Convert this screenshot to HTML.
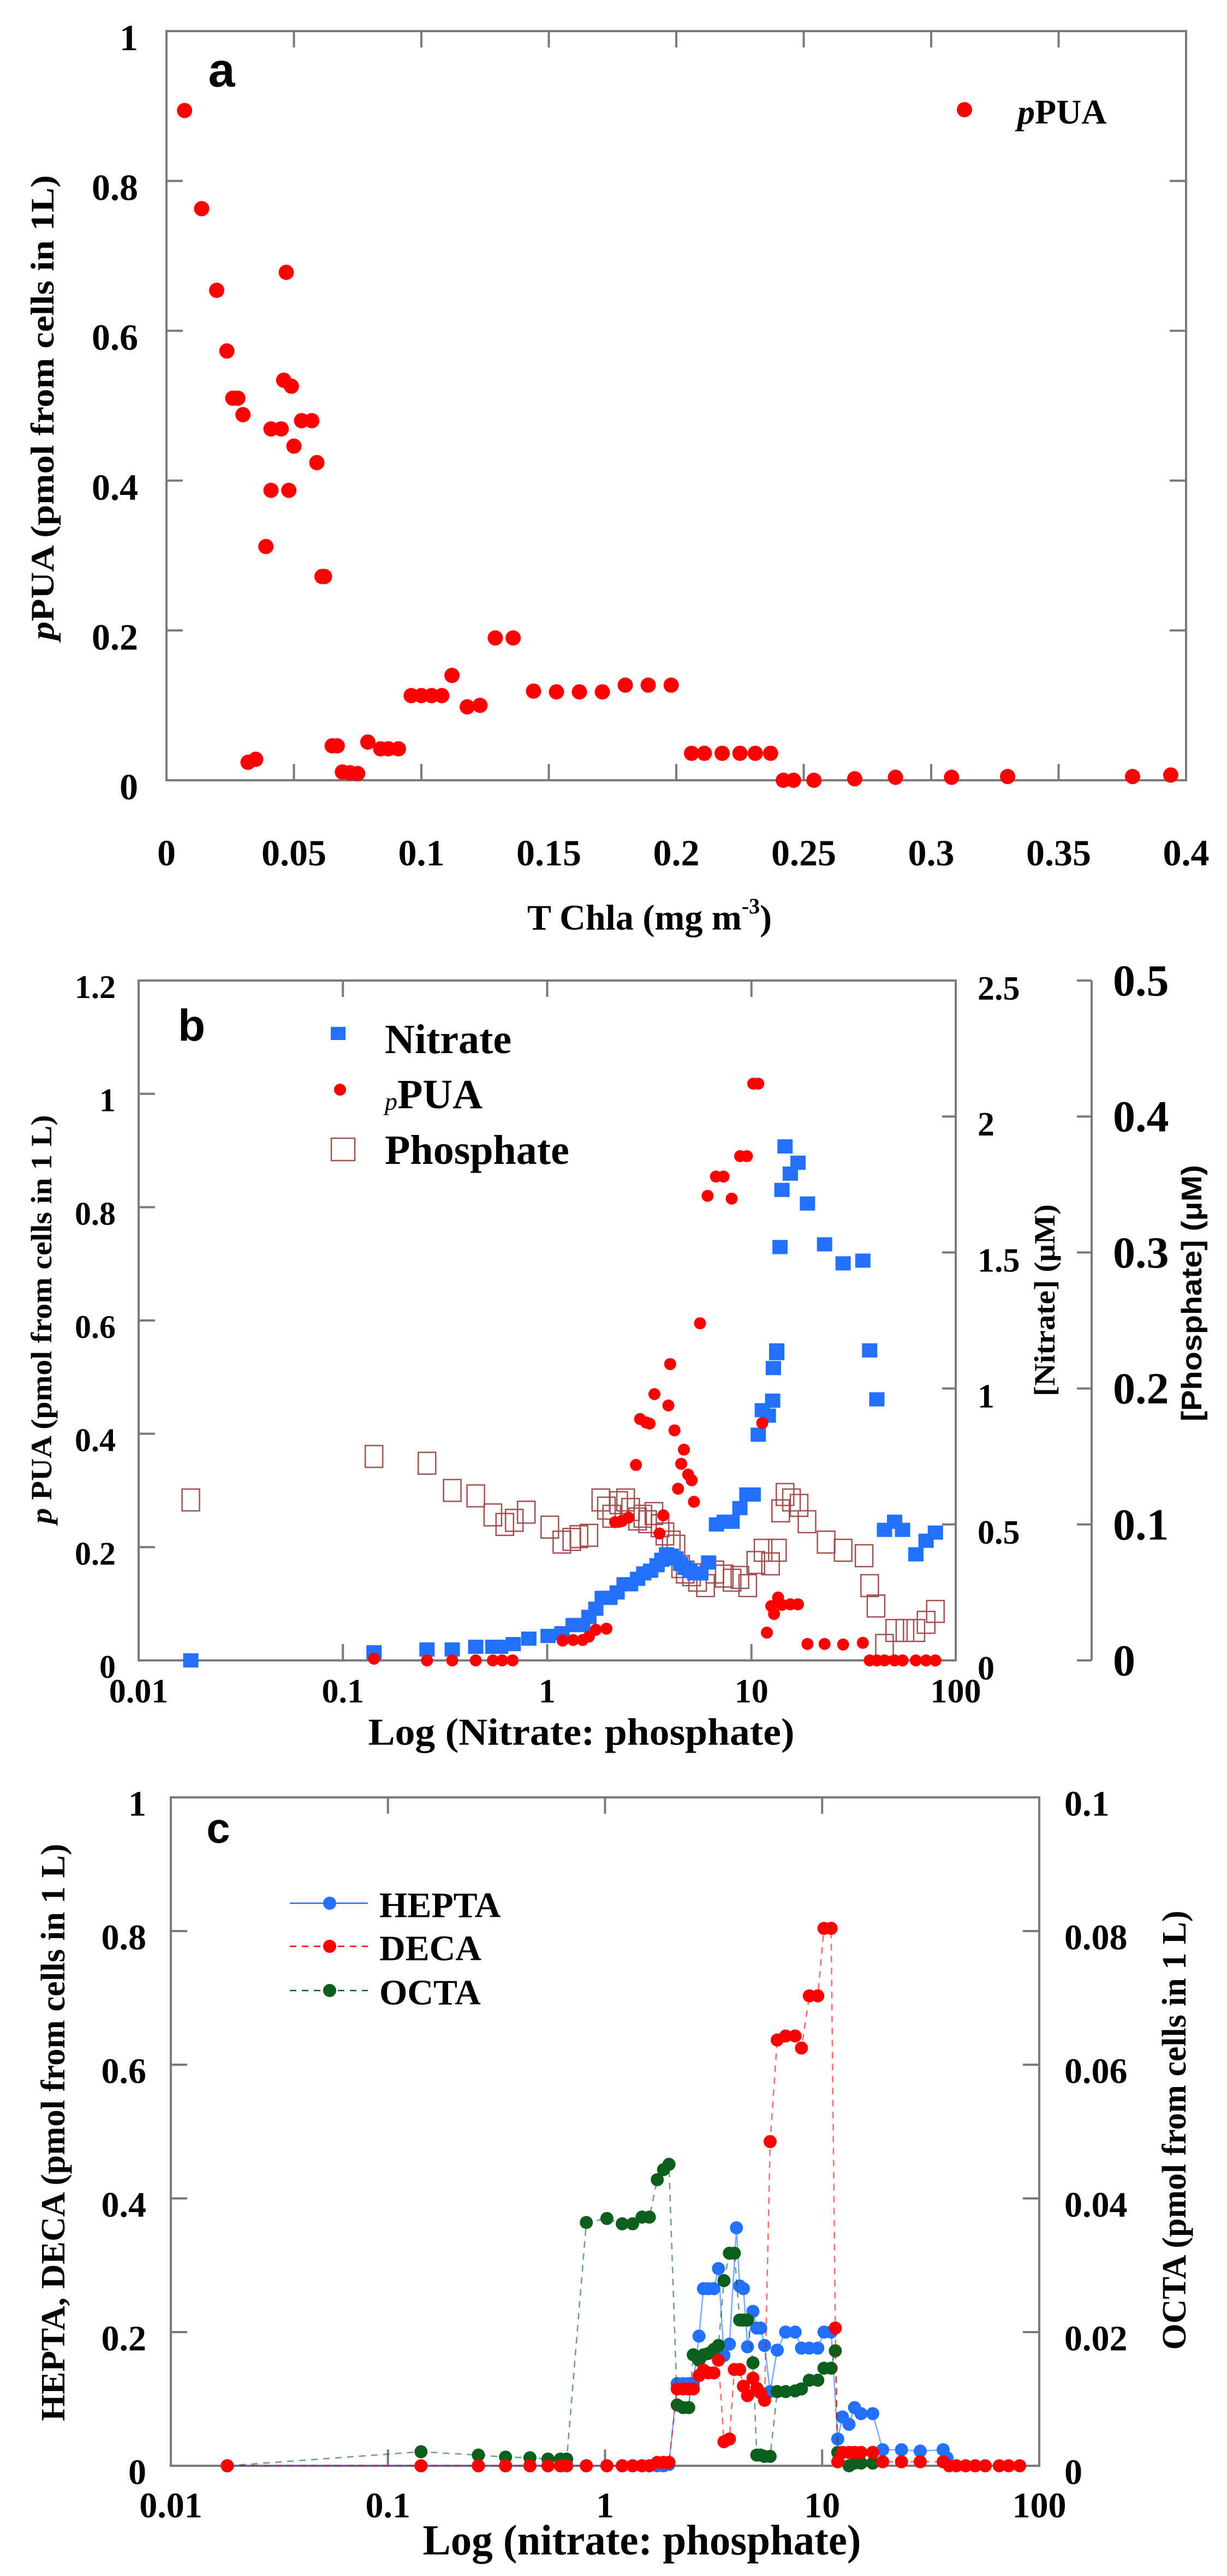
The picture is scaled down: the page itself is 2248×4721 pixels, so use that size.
<!DOCTYPE html>
<html><head><meta charset="utf-8"><title>pPUA charts</title>
<style>
html,body{margin:0;padding:0;background:#fff;}
svg{display:block;}
text{font-family:"Liberation Serif",serif;font-weight:bold;fill:#000;}
.sans{font-family:"Liberation Sans",sans-serif;}
</style></head>
<body>
<svg id="fig" xmlns="http://www.w3.org/2000/svg" width="2248" height="4721" viewBox="0 0 2248 4721"></svg>
<script>
// ---------- Panel a data ----------
const aChla = [.0071,.0138,.0197,.0237,.026,.028,.030,.032,.035,.039,.041,.048,.041,.045,.046,.047,.049,.050,.053,.057,.059,.061,.062,.065,.067,.069,.072,.075,.079,.084,.087,.091,.096,.100,.104,.108,.112,.118,.123,.129,.136,.144,.153,.162,.171,.180,.189,.198,.206,.211,.218,.225,.231,.237,.242,.246,.254,.270,.286,.308,.330,.379,.394];
const aPUA  = [.894,.763,.654,.573,.510,.510,.488,.024,.028,.312,.387,.387,.469,.469,.534,.678,.526,.446,.480,.480,.424,.272,.272,.046,.046,.011,.010,.009,.051,.042,.042,.042,.113,.113,.113,.113,.140,.098,.100,.190,.190,.119,.118,.118,.118,.127,.127,.127,.036,.036,.036,.036,.036,.036,0,0,0,.002,.004,.004,.005,.005,.007];
const aXTicks = [0,0.05,0.1,0.15,0.2,0.25,0.3,0.35,0.4];
const aXLabels = ["0","0.05","0.1","0.15","0.2","0.25","0.3","0.35","0.4"];
const aYTicks = [0,0.2,0.4,0.6,0.8,1];
const aYLabels = ["0","0.2","0.4","0.6","0.8","1"];

// ---------- Panel b data ----------
const bNitX = [.018,.142,.258,.343,.447,.542,.592,.682,.813,1.01,1.18,1.34,1.49,1.60,1.73,1.86,2.03,2.20,2.38,2.56,2.77,2.97,3.21,3.45,3.64,3.84,4.05,4.27,4.50,4.74,5.0,5.27,5.65,6.17,6.74,7.36,8.04,8.78,9.5,10.2,10.8,11.3,12.1,12.7,12.8,13.3,13.3,13.8,14.1,14.6,15.5,16.9,18.8,22.8,28.1,35.1,37.9,41.1,44.8,50.2,54.9,63.8,71.6,79.5];
const bNitY = [0,.03,.04,.04,.05,.05,.05,.06,.08,.09,.10,.13,.13,.16,.19,.23,.23,.25,.28,.28,.30,.32,.33,.35,.37,.39,.385,.375,.355,.34,.33,.32,.32,.36,.50,.51,.51,.56,.61,.61,.83,.92,.90,.955,1.075,1.13,1.14,1.52,1.73,1.89,1.79,1.83,1.68,1.53,1.46,1.47,1.14,.96,.48,.51,.48,.39,.44,.47];
const bPuaX = [.142,.258,.343,.447,.542,.602,.677,1.19,1.34,1.49,1.60,1.73,1.95,2.15,2.32,2.5,2.72,2.85,3.05,3.17,3.35,3.55,3.70,3.92,4.0,4.2,4.37,4.53,4.67,4.9,5.1,5.23,5.6,6.1,6.7,7.3,8.0,8.8,9.5,10.2,10.8,11.3,11.9,12.5,12.9,13.5,14.1,15.5,16.9,18.8,22.8,28.1,35.1,37.9,41.1,44.8,50.2,54.9,63.8,71.6,79.5];
const bPuaY = [.003,0,0,0,0,0,0,.035,.036,.036,.042,.054,.056,.244,.246,.252,.345,.426,.42,.418,.47,.224,.256,.45,.523,.406,.303,.347,.372,.328,.318,.28,.595,.82,.854,.854,.815,.89,.89,1.018,1.018,.419,.049,.096,.082,.111,.098,.099,.099,.029,.029,.028,.031,0,0,0,0,0,0,0,0];
const bPhoX = [.018,.142,.258,.343,.447,.542,.62,.69,.79,1.03,1.18,1.32,1.43,1.6,1.83,1.95,2.07,2.24,2.42,2.56,2.77,2.94,3.10,3.33,3.57,3.77,4.05,4.27,4.50,4.74,5.09,5.45,5.96,6.62,7.36,8.04,8.78,9.59,10.5,11.4,12.4,13.4,13.9,14.6,15.7,17.1,18.7,23.2,28.1,35.6,37.9,40.7,44.8,50.3,56.4,63.8,71.6,79.5];
const bPhoY = [.118,.150,.145,.125,.121,.107,.10,.103,.109,.098,.087,.089,.091,.092,.118,.112,.106,.116,.118,.111,.104,.106,.102,.108,.099,.093,.087,.084,.069,.065,.063,.059,.055,.065,.062,.059,.061,.055,.072,.081,.071,.081,.110,.122,.118,.114,.102,.087,.081,.077,.055,.040,.011,.022,.022,.022,.028,.036];
const bXTicks = [0.01,0.1,1,10,100];
const bXLabels = ["0.01","0.1","1","10","100"];
const bYTicks = [0,0.2,0.4,0.6,0.8,1,1.2];
const bYLabels = ["0","0.2","0.4","0.6","0.8","1","1.2"];
const bNTicks = [0,0.5,1,1.5,2,2.5];
const bNLabels = ["0","0.5","1","1.5","2","2.5"];
const bPTicks = [0,0.1,0.2,0.3,0.4,0.5];
const bPLabels = ["0","0.1","0.2","0.3","0.4","0.5"];

// ---------- Panel c data ----------
const cLowX = [.0182,.142,.261,.348,.451,.546,.623,.666,.820,1.02,1.20,1.34,1.48,1.60];
const cHepX = [.0182,.142,.261,.348,.451,.546,.623,.666,.820,1.02,1.20,1.34,1.48,1.60,1.74,1.86,1.97,2.15,2.29,2.43,2.55,2.71,2.84,2.99,3.17,3.33,3.53,3.74,4.03,4.17,4.34,4.53,4.80,5.00,5.21,5.43,5.76,6.21,6.79,7.51,8.03,8.73,9.55,10.2,11.0,11.8,12.4,13.3,14.1,15.1,17.1,19.0,23.2,28.3,36.1,37.6];
const cHepY = [0,0,0,0,0,0,0,0,0,0,0,0,0,0,0,0,.002,.123,.123,.123,.123,.194,.265,.265,.265,.295,.165,.182,.356,.269,.265,.178,.231,.206,.206,.180,.111,.173,.200,.200,.176,.176,.176,.200,.200,.040,.073,.062,.087,.078,.078,.024,.024,.022,.024,.012];
const cDecX = [.0182,.142,.261,.348,.451,.546,.623,.666,.820,1.02,1.20,1.34,1.48,1.60,1.74,1.86,1.97,2.15,2.29,2.43,2.55,2.71,2.84,2.99,3.17,3.33,3.53,3.74,3.94,4.17,4.34,4.53,4.80,5.00,5.21,5.43,5.76,6.21,6.79,7.51,8.03,8.73,9.55,10.2,11.0,11.5,11.8,12.4,13.3,14.1,15.1,17.1,19.0,23.2,28.3,36.1,38.5,41.5,45.8,50.7,56.4,65.5,72.3,81.3];
const cDecY = [0,0,0,0,0,0,0,0,0,0,0,0,0,0,.005,.005,.005,.115,.115,.115,.115,.135,.143,.139,.139,.158,.036,.040,.144,.144,.119,.105,.131,.116,.109,.098,.485,.637,.643,.643,.625,.703,.703,.804,.804,.206,.006,.020,.020,.020,.020,.020,.006,.006,.006,.006,0,0,0,0,0,0,0,0];
const cOctX = [.0182,.142,.261,.348,.451,.546,.623,.666,.820,1.02,1.20,1.34,1.48,1.60,1.74,1.86,1.97,2.15,2.29,2.43,2.55,2.71,2.84,2.99,3.17,3.33,3.53,3.74,3.94,4.17,4.34,4.53,4.80,5.00,5.21,5.43,5.76,6.21,6.79,7.51,8.03,8.73,9.55,10.2,11.0,11.5,11.8,13.3,14.1,15.1,17.1];
const cOctY = [0,.0021,.0016,.0013,.0012,.001,.001,.001,.0364,.037,.0362,.0362,.0372,.0372,.0428,.0443,.0451,.0091,.0087,.0087,.0166,.0158,.0166,.0168,.0174,.018,.0277,.0318,.0318,.0218,.0218,.0218,.0154,.0016,.0016,.0014,.0014,.0111,.0111,.0112,.0115,.0128,.0128,.0146,.0146,.0172,.002,0,.0004,.0004,.0004];
const cYTicks = [0,0.2,0.4,0.6,0.8,1];
const cYLabels = ["0","0.2","0.4","0.6","0.8","1"];
const cOTicks = [0,0.02,0.04,0.06,0.08,0.1];
const cOLabels = ["0","0.02","0.04","0.06","0.08","0.1"];

// ---------- helpers ----------
const NS = "http://www.w3.org/2000/svg";
const svg = document.getElementById("fig");
function mk(tag, attrs, parent){
  const e = document.createElementNS(NS, tag);
  for (const k in attrs) e.setAttribute(k, attrs[k]);
  (parent||svg).appendChild(e);
  return e;
}
function grp(name){
  const g = mk("g", {});
  
  
  return g;
}
function txt(parent, s, x, y, size, anchor, name, extra){
  const t = mk("text", Object.assign({x:x, y:y, "font-size":size, "text-anchor":anchor||"middle", "dominant-baseline":"central"}, extra||{}), parent);
  t.textContent = s;
  
  
  return t;
}
const AX = "#7a7a7a";
function line(parent, x1,y1,x2,y2, col, w, dash){
  const l = mk("line",{x1:x1,y1:y1,x2:x2,y2:y2,stroke:col||AX,"stroke-width":w||4}, parent);
  if (dash) l.setAttribute("stroke-dasharray", dash);
  return l;
}
function frame(parent, L,T,R,B){
  const r = mk("rect",{x:L,y:T,width:R-L,height:B-T,fill:"none",stroke:AX,"stroke-width":4}, parent);
  
  
}
function dot(parent, x, y, r, col, name){
  const c = mk("circle",{cx:x,cy:y,r:r,fill:col}, parent);
  
  
  return c;
}
const lg = v => Math.log10(v);

// ================= Panel a =================
(function(){
  const L=305,R=2173,T=57,B=1430;
  const sx = v => L + v/0.4*(R-L);
  const sy = v => B - v*(B-T);
  const g = grp("panel-a");
  frame(g,L,T,R,B);
  aXTicks.forEach((v,i)=>{
    const x=sx(v);
    line(g,x,B,x,B-30); line(g,x,T,x,T+30);
    txt(g,aXLabels[i],x,1563,68,"middle","x-tick-label");
  });
  aYTicks.forEach((v,i)=>{
    const y=sy(v);
    line(g,L,y,L+30,y); line(g,R,y,R-30,y);
    txt(g,aYLabels[i],253,y+12,68,"end","y-tick-label");
  });
  const xt = txt(g,"",1190,1682,66,"middle","x-axis-title");
  xt.innerHTML = 'T Chla (mg m<tspan dy="-22" font-size="40">-3</tspan><tspan dy="22">)</tspan>';
  const yt = txt(g,"",78,747,60,"middle","y-axis-title",{transform:"rotate(-90 78 747)",textLength:852,lengthAdjust:"spacingAndGlyphs"});
  yt.innerHTML = '<tspan font-style="italic">p</tspan>PUA (pmol from cells in 1L)';
  txt(g,"a",406,128,88,"middle","panel-label",{class:"sans"});
  const pts = grp("ppua-series"); g.appendChild(pts);
  aChla.forEach((v,i)=>{ dot(pts, sx(v), sy(aPUA[i]), 14, "#ff0000", "ppua-point"); });
  dot(g,1767,201,14,"#ff0000","legend-marker");
  const lt = txt(g,"",1864,205,64,"start","legend-label",{fill:"#ff0000"});
  lt.innerHTML = '<tspan font-style="italic">p</tspan>PUA';
})();

// ================= Panel b =================
(function(){
  const L=254,R=1751,T=1797,B=3043, P=2000;
  const sx = v => L + (lg(v)+2)*(R-L)/4;
  const syL = v => B - v/1.2*(B-T);
  const syN = v => B - v/2.5*(B-T);
  const syP = v => B - v/0.5*(B-T);
  const g = grp("panel-b");
  frame(g,L,T,R,B);
  bXTicks.forEach((v,i)=>{
    const x=sx(v);
    line(g,x,B,x,B-30); line(g,x,T,x,T+30);
    txt(g,bXLabels[i],x,3100,62,"middle","x-tick-label");
  });
  bYTicks.forEach((v,i)=>{
    const y=syL(v);
    line(g,L,y,L+30,y);
    txt(g,bYLabels[i],212,y+12,60,"end","y-tick-label");
  });
  bNTicks.forEach((v,i)=>{
    const y=syN(v);
    line(g,R,y,R-25,y);
    txt(g,bNLabels[i],1791,y+15,62,"start","nitrate-tick-label");
  });
  line(g,P,T,P,B);
  bPTicks.forEach((v,i)=>{
    const y=syP(v);
    line(g,P,y,P-27,y);
    txt(g,bPLabels[i],2039,y,82,"start","phosphate-tick-label");
  });
  txt(g,"Log (Nitrate: phosphate)",1065,3175,70,"middle","x-axis-title",{textLength:781,lengthAdjust:"spacingAndGlyphs"});
  const yt = txt(g,"",76,2418,54,"middle","y-axis-title",{transform:"rotate(-90 76 2418)",textLength:749,lengthAdjust:"spacingAndGlyphs"});
  yt.innerHTML = '<tspan font-style="italic">p</tspan> PUA (pmol from cells in 1 L)';
  txt(g,"[Nitrate] (\u03bcM)",1914,2383,54,"middle","nitrate-axis-title",{transform:"rotate(-90 1914 2383)",textLength:352,lengthAdjust:"spacingAndGlyphs"});
  txt(g,"[Phosphate] (\u03bcM)",2184,2370,52,"middle","phosphate-axis-title",{class:"sans",transform:"rotate(-90 2184 2370)",textLength:470,lengthAdjust:"spacingAndGlyphs"});
  txt(g,"b",351,1880,82,"middle","panel-label",{class:"sans"});

  const ph = grp("phosphate-series"); g.appendChild(ph);
  bPhoX.forEach((v,i)=>{
    const r = mk("rect",{x:sx(v)-16,y:syP(bPhoY[i])-20,width:32,height:40,fill:"none",stroke:"#a0504f","stroke-width":2.5}, ph);
    
    
  });
  const ni = grp("nitrate-series"); g.appendChild(ni);
  bNitX.forEach((v,i)=>{
    const r = mk("rect",{x:sx(v)-14,y:syN(bNitY[i])-13,width:28,height:26,fill:"#2170ff"}, ni);
    
    
  });
  const pu = grp("ppua-series"); g.appendChild(pu);
  bPuaX.forEach((v,i)=>{ dot(pu, sx(v), syL(bPuaY[i]), 11, "#ff0000", "ppua-point"); });

  const lgd = grp("legend"); g.appendChild(lgd);
  const s1 = mk("rect",{x:606,y:1882,width:27,height:24,fill:"#2170ff"}, lgd);
  
  
  txt(lgd,"Nitrate",705,1905,76,"start","legend-nitrate-label",{fill:"#2170ff"});
  dot(lgd,623,1997,11,"#ff0000","legend-ppua-marker");
  const l2 = txt(lgd,"",705,2006,76,"start","legend-ppua-label",{fill:"#ff0000"});
  l2.innerHTML = '<tspan font-style="italic" font-weight="normal" font-size="46" dy="12">p</tspan><tspan dy="-12">PUA</tspan>';
  const s3 = mk("rect",{x:607,y:2086,width:43,height:41,fill:"none",stroke:"#a0504f","stroke-width":2.5}, lgd);
  
  
  txt(lgd,"Phosphate",705,2108,76,"start","legend-phosphate-label",{fill:"#7a0000"});
})();

// ================= Panel c =================
(function(){
  const L=313,R=1904,T=3294,B=4519;
  const sx = v => L + (lg(v)+2)*(R-L)/4;
  const sy = v => B - v*(B-T);
  const syO = v => B - v/0.1*(B-T);
  const g = grp("panel-c");
  frame(g,L,T,R,B);
  bXTicks.forEach((v,i)=>{
    const x=sx(v);
    line(g,x,B,x,B-30); line(g,x,T,x,T+30);
    txt(g,bXLabels[i],x,4592,66,"middle","x-tick-label");
  });
  cYTicks.forEach((v,i)=>{
    const y=sy(v);
    line(g,L,y,L+30,y);
    txt(g,cYLabels[i],268,y+12,66,"end","y-tick-label");
  });
  cOTicks.forEach((v,i)=>{
    const y=syO(v);
    line(g,R,y,R-30,y);
    txt(g,cOLabels[i],1950,y+12,66,"start","octa-tick-label");
  });
  txt(g,"Log (nitrate: phosphate)",1176,4655,78,"middle","x-axis-title",{textLength:803,lengthAdjust:"spacingAndGlyphs"});
  txt(g,"HEPTA,  DECA (pmol from cells in 1 L)",98,3908,62,"middle","y-axis-title",{transform:"rotate(-90 98 3908)",textLength:1058,lengthAdjust:"spacingAndGlyphs"});
  txt(g,"OCTA (pmol from cells in 1 L)",2152,3904,62,"middle","octa-axis-title",{transform:"rotate(-90 2152 3904)",textLength:805,lengthAdjust:"spacingAndGlyphs"});
  txt(g,"c",400,3350,78,"middle","panel-label",{class:"sans"});

  function series(name, xs, ys, scale, col, dash, ptName){
    const sg = grp(name); g.appendChild(sg);
    const d = xs.map((v,i)=>(i?"L":"M")+sx(v).toFixed(1)+","+scale(ys[i]).toFixed(1)).join(" ");
    const p = mk("path",{d:d,fill:"none",stroke:col,"stroke-width":2.5,"stroke-opacity":0.6}, sg);
    if (dash) p.setAttribute("stroke-dasharray", dash);
    
    
    xs.forEach((v,i)=>{ dot(sg, sx(v), scale(ys[i]), 12, col, ptName); });
  }
  series("hepta-series", cHepX, cHepY, sy, "#2170ff", null, "hepta-point");
  series("octa-series", cOctX, cOctY, syO, "#0b5e1c", "12,10", "octa-point");
  series("deca-series", cDecX, cDecY, sy, "#ff0000", "12,10", "deca-point");

  const lgd = grp("legend"); g.appendChild(lgd);
  line(lgd,531,3488,674,3488,"#2170ff",2.5);
  dot(lgd,604,3488,12,"#2170ff","legend-hepta-marker");
  txt(lgd,"HEPTA",695,3492,66,"start","legend-hepta-label",{fill:"#2170ff"});
  line(lgd,531,3567,674,3567,"#ff0000",2.5,"12,10");
  dot(lgd,604,3567,12,"#ff0000","legend-deca-marker");
  txt(lgd,"DECA",695,3571,66,"start","legend-deca-label",{fill:"#ff0000"});
  line(lgd,531,3648,674,3648,"#0b5e1c",2.5,"12,10");
  dot(lgd,604,3648,12,"#0b5e1c","legend-octa-marker");
  txt(lgd,"OCTA",695,3652,66,"start","legend-octa-label",{fill:"#0b5e1c"});
})();
</script>
</body></html>
